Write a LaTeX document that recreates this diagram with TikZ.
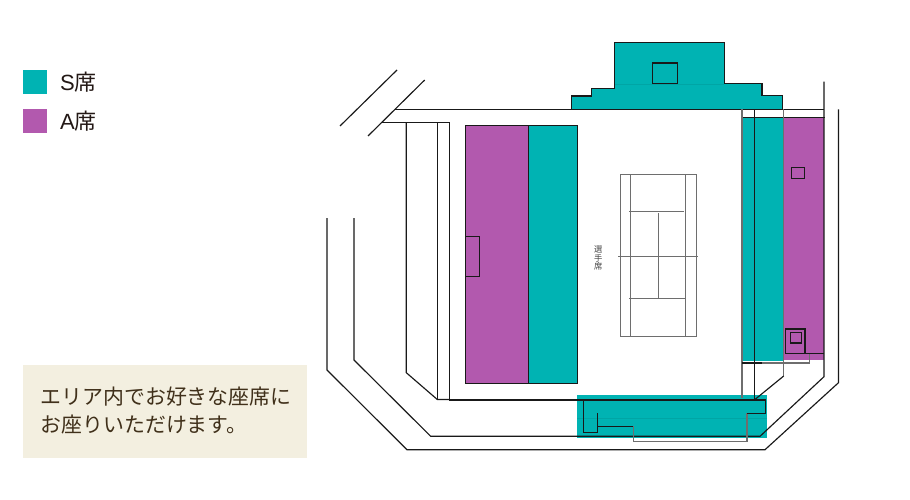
\documentclass[tikz,border=0pt]{standalone}
\usepackage{fontspec}
\setmainfont{Noto Sans CJK JP}
\newfontfamily\latinfont{Liberation Sans}
\definecolor{seatS}{HTML}{00B3B3}
\definecolor{seatA}{HTML}{B259AE}
\definecolor{panel}{HTML}{F3EFE0}
\definecolor{paneltext}{HTML}{40301A}
\definecolor{legendtext}{HTML}{231815}
\definecolor{court}{HTML}{6E6E6E}
\tikzset{
  wall/.style={draw=black!90,line width=1.15pt,line join=miter},
  grayline/.style={draw=court,line width=1.3pt},
  courtline/.style={draw=court,line width=1pt},
  faint/.style={draw=black!8!seatS,line width=0.6pt},
  seatblock/.style={line width=1.15pt,draw=black!90},
  legendlabel/.style={anchor=west,inner sep=0pt,font=\fontsize{22}{22}\selectfont,text=legendtext},
  notetext/.style={anchor=west,inner sep=0pt,text=paneltext,font=\fontsize{20.9}{28}\selectfont},
}
\begin{document}
\begin{tikzpicture}[x=1pt,y=-1pt]
\useasboundingbox (0,0) rectangle (910,500);
\fill[white] (0,0) rectangle (910,500);
% legend
\fill[seatS] (23.3,70) rectangle (47.3,94);
\fill[seatA] (23.3,108.7) rectangle (47.3,132.7);
\node[legendlabel] (legS) at (60,82.5) {{\latinfont S}席};
\node[legendlabel] (legA) at (60,121.5) {{\latinfont A}席};
% note panel
\fill[panel] (23.3,365) rectangle (307.3,458.3);
\node[notetext] (note1) at (40.5,397) {エリア内でお好きな座席に};
\node[notetext] (note2) at (40.5,425) {お座りいただけます。};
% seat fills
\fill[seatA] (465.3,125.3) rectangle (528.7,383.3);
\fill[seatS] (528.7,125.3) rectangle (577.7,383.3);
\fill[seatS] (742.3,117.3) rectangle (782.7,360.7);
\fill[seatA] (782.7,117.3) rectangle (823.5,360);
\fill[seatS] (577.3,395.3) rectangle (767.3,437.7);
\fill[seatS] (571.7,109.3) -- (571.7,96) -- (591.7,96) -- (591.7,88.3) -- (614.3,88.3) -- (614.3,42.3) -- (724.3,42.3) -- (724.3,83.3) -- (762,83.3) -- (762,95.7) -- (782.3,95.7) -- (782.3,109.3) -- cycle;
\draw[faint] (614.3,84) -- (724.3,84);
\draw[faint] (577.3,418) -- (767.3,418);
% seat outlines
\draw[seatblock] (465.3,125.3) rectangle (577.7,383.3);
\draw[seatblock] (528.7,125.3) -- (528.7,383.3);
\draw[seatblock] (465.3,236.7) rectangle (479.3,276.7);
\draw[wall] (571.7,109.3) -- (571.7,96) -- (591.7,96) -- (591.7,88.3) -- (614.3,88.3) -- (614.3,42.3) -- (724.3,42.3) -- (724.3,83.3) -- (762,83.3) -- (762,95.7) -- (782.3,95.7) -- (782.3,109.3);
\draw[wall] (652.3,63) rectangle (677.7,83.3);
% diagonals top-left
\draw[wall] (340,126) -- (397,70);
\draw[wall] (368,136) -- (424.7,80);
% main structure
\draw[wall] (395,109.3) -- (824,109.3);
\draw[wall] (381,122.7) -- (449.3,122.7) -- (449.3,400) -- (754.3,400);
\draw[wall] (406.3,122.7) -- (406.3,372.7) -- (437.3,399.5) -- (449.3,399.5);
\draw[wall] (437.3,122.7) -- (437.3,399.5);
% outer walls
\draw[wall] (327,218) -- (327,370) -- (407,449.7) -- (765,449.7) -- (838.5,382.7) -- (838.5,109.3);
\draw[wall] (354,218) -- (354,360) -- (430.7,436.3) -- (760,436.3) -- (824,376.7) -- (824,81.7);
% right stand
\draw[wall] (742,117.3) -- (825,117.3);
\draw[wall] (754.3,109.3) -- (754.3,400);
\draw[grayline] (742,109.3) -- (742,398);
\draw[grayline] (783.7,109.3) -- (783.7,376);
\draw[wall] (783.7,376) -- (754.3,400);
\draw[wall] (742,363) -- (762,363);
\draw[grayline] (762,363) -- (809.3,363) -- (809.3,353.3);
\draw[wall] (785.3,353.3) -- (824,353.3);
\draw[wall] (785.3,353.3) -- (785.3,329) -- (805,329) -- (805,353.3);
\draw[wall] (790.3,332.3) rectangle (801.3,343);
\draw[wall] (791.7,167.7) rectangle (804.3,178.3);
% bottom stand
\draw[wall] (583.3,400) -- (583.3,432.7) -- (597.3,432.7) -- (597.3,413.3);
\draw[wall] (597.3,426.3) -- (633.3,426.3);
\draw[grayline] (633.3,426.3) -- (633.3,441.7) -- (747,441.7) -- (747,413.3);
\draw[wall] (747,413.3) -- (765.3,413.3) -- (765.3,400) -- (754.3,400);
% tennis court
\draw[courtline] (620.3,174) rectangle (696.3,336);
\draw[courtline] (630.3,174) -- (630.3,337);
\draw[courtline] (685.5,174) -- (685.5,337);
\draw[courtline] (629,211.3) -- (684,211.3);
\draw[courtline] (629,298.5) -- (686,298.5);
\draw[courtline] (658.3,213) -- (658.3,298.5);
\draw[courtline] (618,256.5) -- (698,256.5);
% label
\node[inner sep=0pt,align=center,text=black!75,font=\fontsize{8.3}{8.8}\selectfont] (players) at (598.3,258) {選\\手\\席};
\end{tikzpicture}
\end{document}
